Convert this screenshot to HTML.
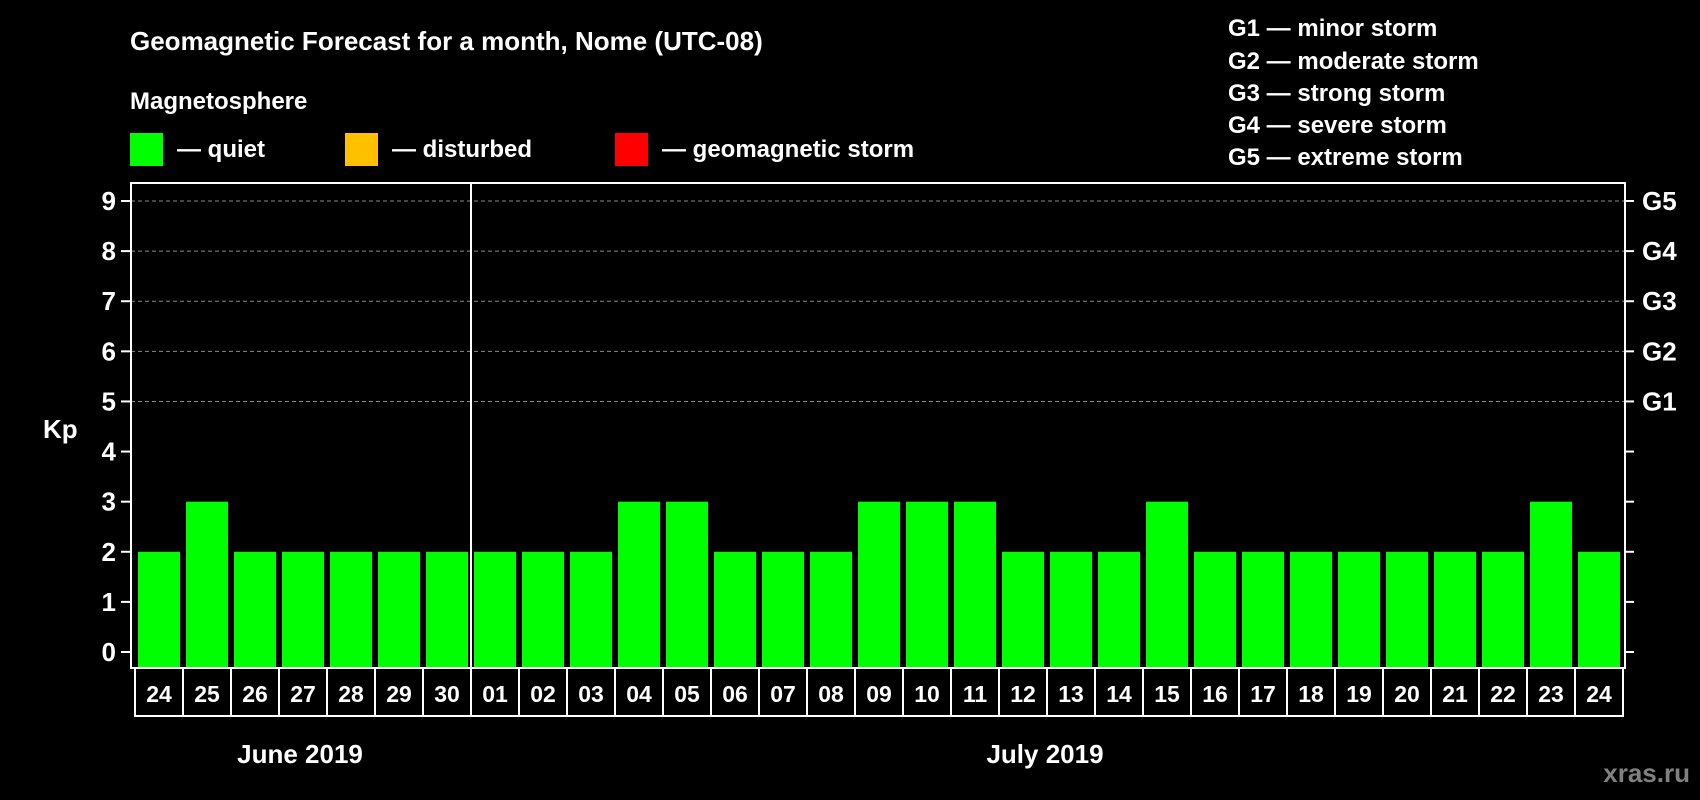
<!DOCTYPE html>
<html><head><meta charset="utf-8"><style>
html,body{margin:0;padding:0;background:#000;}
svg{display:block;font-family:"Liberation Sans",Arial,sans-serif;font-weight:bold;}
</style></head><body>
<svg id="chart" width="1700" height="800" viewBox="0 0 1700 800" xmlns="http://www.w3.org/2000/svg">
<rect width="1700" height="800" fill="#000"/>
<text x="130" y="50" fill="#fff" font-size="26">Geomagnetic Forecast for a month, Nome (UTC-08)</text>
<text x="130" y="109" fill="#fff" font-size="24">Magnetosphere</text>
<g>
<rect x="130" y="133" width="33" height="33" fill="#00ff00"/>
<text x="177" y="157" fill="#fff" font-size="24">— quiet</text></g>
<g>
<rect x="345" y="133" width="33" height="33" fill="#ffc000"/>
<text x="392" y="157" fill="#fff" font-size="24">— disturbed</text></g>
<g>
<rect x="615" y="133" width="33" height="33" fill="#ff0000"/>
<text x="662" y="157" fill="#fff" font-size="24">— geomagnetic storm</text></g>
<g fill="#fff" font-size="24">
<text x="1228" y="36">G1 — minor storm</text>
<text x="1228" y="69">G2 — moderate storm</text>
<text x="1228" y="101">G3 — strong storm</text>
<text x="1228" y="133">G4 — severe storm</text>
<text x="1228" y="165">G5 — extreme storm</text>
</g>
<text x="43" y="438" fill="#fff" font-size="26">Kp</text>
<g id="grid"></g>
<g id="bars"></g>
<g id="axes"></g>
<text x="300" y="763" fill="#fff" font-size="26" text-anchor="middle">June 2019</text>
<text x="1045" y="763" fill="#fff" font-size="26" text-anchor="middle">July 2019</text>
<text x="1690" y="782" fill="#808080" font-size="26" text-anchor="end">xras.ru</text>
</svg>
<script>
const days = ["24","25","26","27","28","29","30","01","02","03","04","05","06","07","08","09","10","11","12","13","14","15","16","17","18","19","20","21","22","23","24"];
const kpValues = [2,3,2,2,2,2,2,2,2,2,3,3,2,2,2,3,3,3,2,2,2,3,2,2,2,2,2,2,2,3,2];
const yTicks = [0,1,2,3,4,5,6,7,8,9];
const gLabels = ["G1","G2","G3","G4","G5"];
const gLevels = [5,6,7,8,9];
const NS="http://www.w3.org/2000/svg";
const plotL=131, plotR=1625, plotT=183, plotB=668;
const boxL=135, pitch=(1623-135)/days.length;
function yS(v){return 652-v*(652-201)/9;}
function xS(i){return boxL+i*pitch;}
function mk(tag,attrs,parent){const e=document.createElementNS(NS,tag);for(const k in attrs)e.setAttribute(k,attrs[k]);parent.appendChild(e);return e;}
const grid=document.getElementById('grid'), bars=document.getElementById('bars'), axes=document.getElementById('axes');
gLevels.forEach((v,i)=>{
  const l=mk('line',{x1:plotL,x2:plotR,y1:yS(v),y2:yS(v),stroke:'#8a8a8a','stroke-width':1,'stroke-dasharray':'4,3'},grid);
  
  
  const t=mk('text',{x:1642,y:yS(v)+9,fill:'#fff','font-size':26},axes);
  t.textContent=gLabels[i];
  
  
});
kpValues.forEach((v,i)=>{
  const r=mk('rect',{x:xS(i)+3,y:yS(v),width:pitch-6,height:plotB-yS(v),fill:'#00ff00'},bars);
  
  
  const b=mk('rect',{x:xS(i),y:plotB,width:pitch,height:716-plotB,fill:'none',stroke:'#fff','stroke-width':2},axes);
  
  
  const t=mk('text',{x:xS(i)+pitch/2,y:702,fill:'#fff','font-size':23,'text-anchor':'middle'},axes);
  t.textContent=days[i];
  
  
});
const frame=mk('rect',{x:plotL,y:plotT,width:plotR-plotL,height:plotB-plotT,fill:'none',stroke:'#fff','stroke-width':2},axes);


const sep=mk('line',{x1:xS(7),x2:xS(7),y1:plotT,y2:plotB,stroke:'#fff','stroke-width':2},axes);


yTicks.forEach(v=>{
  mk('line',{x1:121,x2:plotL,y1:yS(v),y2:yS(v),stroke:'#fff','stroke-width':2},axes);
  mk('line',{x1:plotR,x2:1634,y1:yS(v),y2:yS(v),stroke:'#fff','stroke-width':2},axes);
  const t=mk('text',{x:116,y:yS(v)+9,fill:'#fff','font-size':26,'text-anchor':'end'},axes);
  t.textContent=v;
  
  
});
</script>
</body></html>
